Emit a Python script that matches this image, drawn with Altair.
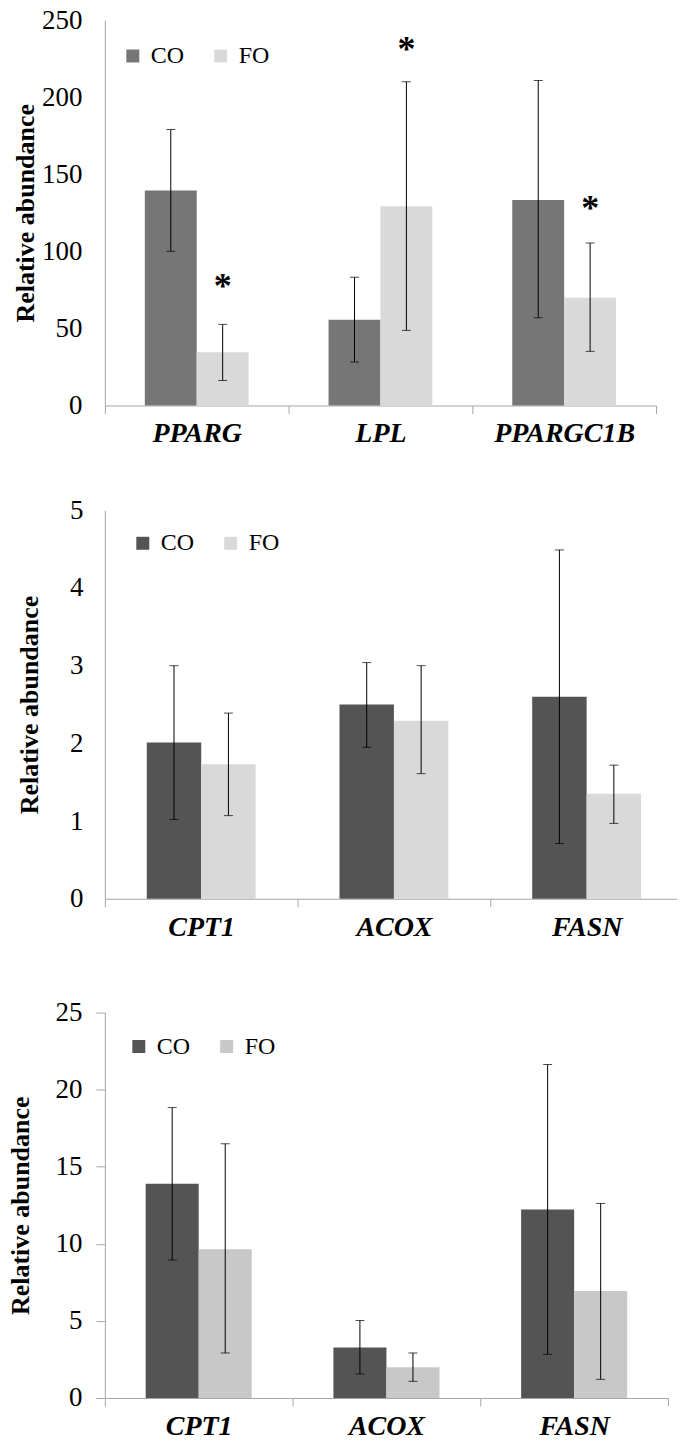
import altair as alt
import pandas as pd

FONT = "Liberation Serif"
groups = ["CO", "FO"]

# Panel 1
genes1 = ["PPARG", "LPL", "PPARGC1B"]
co1 = [139.4, 55.6, 133.2]
co1_lo = [100.0, 28.2, 56.9]
co1_hi = [179.0, 83.2, 210.8]
fo1 = [34.5, 129.3, 69.8]
fo1_lo = [16.2, 48.7, 35.1]
fo1_hi = [52.6, 210.0, 105.4]
star1_genes = ["PPARG", "LPL", "PPARGC1B"]
star1_y = [82.0, 236.0, 132.5]
ticks1 = [0, 50, 100, 150, 200, 250]

# Panel 2
genes2 = ["CPT1", "ACOX", "FASN"]
co2 = [2.01, 2.50, 2.60]
co2_lo = [1.02, 1.95, 0.71]
co2_hi = [3.00, 3.04, 4.49]
fo2 = [1.73, 2.29, 1.35]
fo2_lo = [1.07, 1.61, 0.97]
fo2_hi = [2.39, 3.00, 1.72]
ticks2 = [0, 1, 2, 3, 4, 5]

# Panel 3
genes3 = ["CPT1", "ACOX", "FASN"]
co3 = [13.9, 3.28, 12.23]
co3_lo = [8.95, 1.56, 2.83]
co3_hi = [18.84, 5.03, 21.63]
fo3 = [9.64, 1.99, 6.94]
fo3_lo = [2.92, 1.08, 1.21]
fo3_hi = [16.49, 2.92, 12.62]
ticks3 = [0, 5, 10, 15, 20, 25]

AXIS_GRAY = "#a6a6a6"


def panel(genes, co, co_lo, co_hi, fo, fo_lo, fo_hi, ticks, colors, w, h,
          yrange, legend_xy, ytick, ylabel_pad, title_x, xlabel_pad,
          star_genes=None, star_y=None):
    df = pd.DataFrame({
        "gene": genes * 2,
        "group": ["CO"] * len(genes) + ["FO"] * len(genes),
        "value": co + fo,
        "lo": co_lo + fo_lo,
        "hi": co_hi + fo_hi,
    })
    xaxis = alt.Axis(title=None, labelAngle=0, tickBand="extent", ticks=True, tickSize=8,
                     domainColor=AXIS_GRAY, tickColor=AXIS_GRAY, labelFont=FONT,
                     labelFontSize=28, labelFontWeight="bold", labelFontStyle="italic",
                     labelColor="black", labelPadding=xlabel_pad)
    x = alt.X("gene:N", sort=genes, axis=xaxis,
              scale=alt.Scale(paddingInner=0, paddingOuter=0))
    xo = alt.XOffset("group:N", sort=groups,
                     scale=alt.Scale(paddingInner=0, paddingOuter=0.77))
    ysc = alt.Scale(domain=[0, ticks[-1]], nice=False, range=yrange)
    yaxis = alt.Axis(values=ticks, title="Relative abundance", grid=False,
                     ticks=ytick > 0, tickSize=max(ytick, 1), tickColor=AXIS_GRAY,
                     domainColor=AXIS_GRAY, labelFont=FONT, labelFontSize=27,
                     labelColor="black", labelPadding=ylabel_pad,
                     titleFont=FONT, titleFontSize=26, titleFontWeight="bold",
                     titleColor="black", titleAngle=270, titleBaseline="alphabetic",
                     titleAlign="center", titleX=title_x,
                     titleY=(yrange[0] + yrange[1]) / 2)
    color = alt.Color("group:N", scale=alt.Scale(domain=groups, range=colors),
                      legend=alt.Legend(orient="none", legendX=legend_xy[0],
                                        legendY=legend_xy[1], direction="horizontal",
                                        title=None, symbolType="square", symbolSize=169,
                                        symbolStrokeWidth=0, labelFont=FONT,
                                        labelFontSize=24, labelColor="black",
                                        labelOffset=6, columnPadding=24, padding=0,
                                        symbolOffset=0))
    base = alt.Chart(df)
    bars = base.mark_bar().encode(
        x=x, xOffset=xo, y=alt.Y("value:Q", scale=ysc, axis=yaxis), color=color)
    rules = base.mark_rule(color="black", strokeWidth=1).encode(
        x=x, xOffset=xo, y=alt.Y("lo:Q", scale=ysc, axis=yaxis), y2="hi:Q")
    cap_hi = base.mark_tick(color="black", size=9, thickness=1, orient="horizontal").encode(
        x=x, xOffset=xo, y=alt.Y("hi:Q", scale=ysc, axis=yaxis))
    cap_lo = base.mark_tick(color="black", size=9, thickness=1, orient="horizontal").encode(
        x=x, xOffset=xo, y=alt.Y("lo:Q", scale=ysc, axis=yaxis))
    layers = [bars, rules, cap_hi, cap_lo]
    if star_genes:
        sdf = pd.DataFrame({"gene": star_genes, "group": ["FO"] * len(star_genes),
                            "sy": star_y})
        stars = alt.Chart(sdf).mark_text(text="*", font=FONT, fontSize=36,
                                         fontWeight="bold", color="black",
                                         baseline="alphabetic", dy=19).encode(
            x=x, xOffset=xo, y=alt.Y("sy:Q", scale=ysc, axis=yaxis))
        layers.append(stars)
    return alt.layer(*layers).properties(width=w, height=h)


p1 = panel(genes1, co1, co1_lo, co1_hi, fo1, fo1_lo, fo1_hi, ticks1,
           ["#767676", "#d9d9d9"], 552, 386, [386, 0], (16, 24), 0, 23, -71, 6,
           star1_genes, star1_y)
p2 = panel(genes2, co2, co2_lo, co2_hi, fo2, fo2_lo, fo2_hi, ticks2,
           ["#545454", "#d9d9d9"], 579, 389, [389, 0], (26, 21), 0, 22, -67, 7)
p3 = panel(genes3, co3, co3_lo, co3_hi, fo3, fo3_lo, fo3_hi, ticks3,
           ["#545454", "#c8c8c8"], 564, 395, [395, 9], (22, 31), 9, 14, -76, 7)

chart = alt.vconcat(p1, p2, p3, spacing=105, bounds="flush").resolve_scale(
    color="independent", x="independent", y="independent", xOffset="independent"
).resolve_legend(color="independent").configure_view(stroke=None).properties(
    padding={"left": 0, "top": -3, "right": -7, "bottom": -6}
)

chart.save("out.html", embed_options={"renderer": "svg", "actions": False})
